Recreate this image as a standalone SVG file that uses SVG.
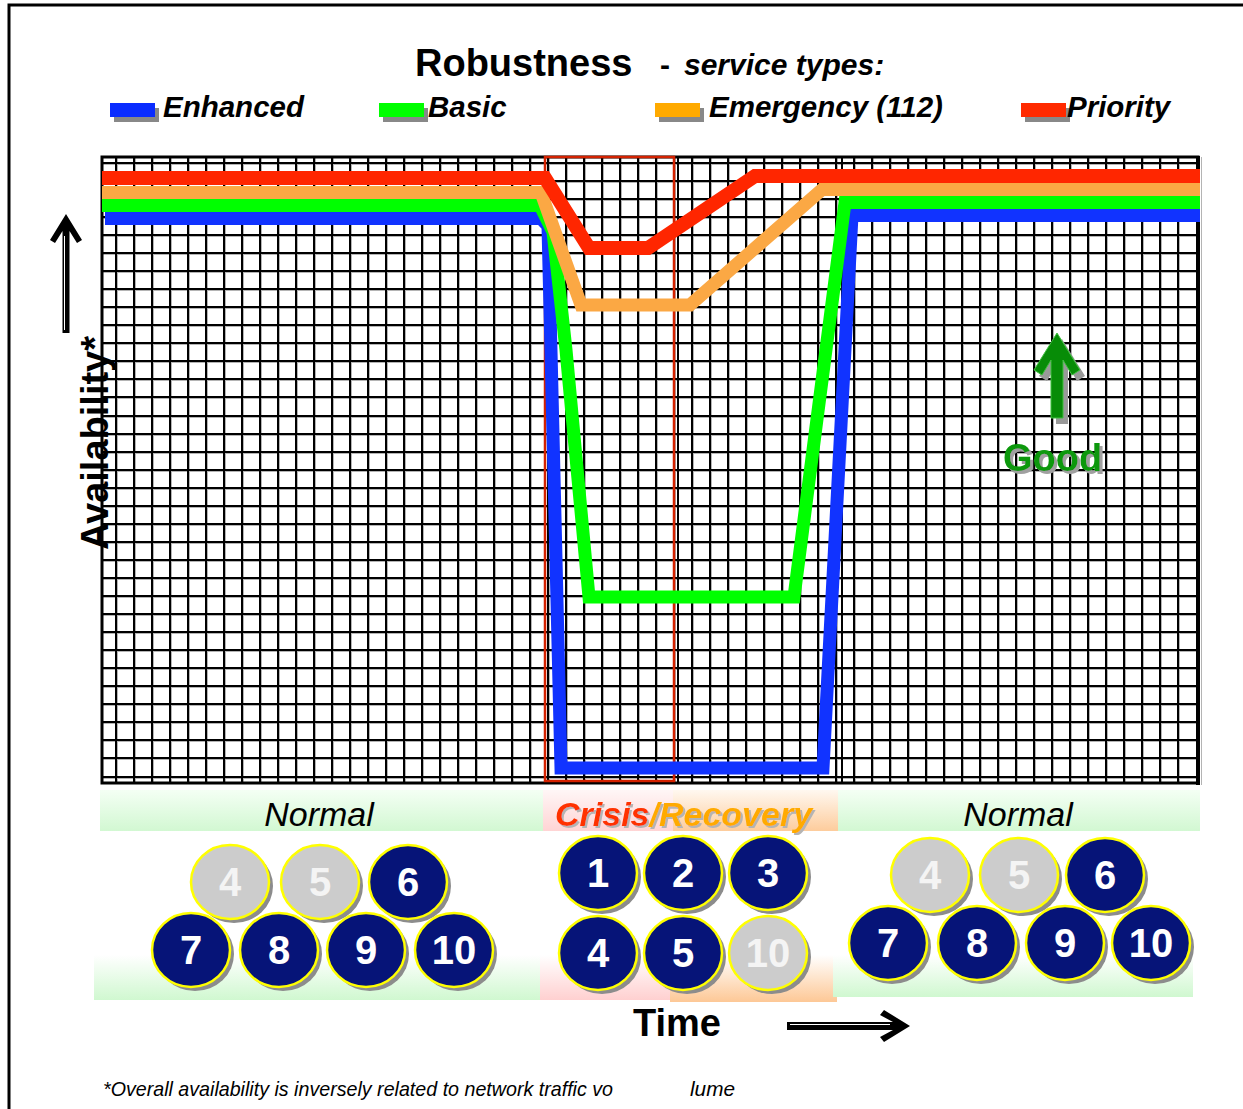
<svg xmlns="http://www.w3.org/2000/svg" width="1243" height="1109" viewBox="0 0 1243 1109">
<defs>
<style>
.t{font-family:"Liberation Sans",Arial,sans-serif}
.gl{stroke:#000;stroke-width:2;fill:none}
.gs{stroke:#b4b4b4;stroke-width:1;fill:none}
.ln{fill:none;stroke-linejoin:miter;stroke-miterlimit:10}
.sh{fill:#8c8c8c}
.cn{fill:#061478;stroke:#ffff00;stroke-width:2.5}
.cg{fill:#cccccc;stroke:#ffff00;stroke-width:2.5}
.num{font-family:"Liberation Sans",Arial,sans-serif;font-weight:bold;font-size:40px;fill:#ffffff;text-anchor:middle}
.numg{fill:#f4f4f4}
.lg{font-family:"Liberation Sans",Arial,sans-serif;font-weight:bold;font-style:italic;font-size:29.5px;fill:#000}
.sw{fill:#888888}
</style>
<filter id="ds" x="-10%" y="-20%" width="130%" height="150%"><feDropShadow dx="3" dy="3" stdDeviation="0" flood-color="#a0a0a0"/></filter>
<filter id="ds2" x="-10%" y="-20%" width="130%" height="150%"><feDropShadow dx="2" dy="2" stdDeviation="0" flood-color="#b4b4b4"/></filter>
<linearGradient id="gG" x1="0" y1="0" x2="0" y2="1"><stop offset="0" stop-color="#f4fff4"/><stop offset="1" stop-color="#d2f8d2"/></linearGradient>
<linearGradient id="gP" x1="0" y1="0" x2="0" y2="1"><stop offset="0" stop-color="#fff6f6"/><stop offset="1" stop-color="#ffd4d4"/></linearGradient>
<linearGradient id="gO" x1="0" y1="0" x2="0" y2="1"><stop offset="0" stop-color="#fff8f0"/><stop offset="1" stop-color="#fdcc9c"/></linearGradient>
<linearGradient id="gGl" x1="0" y1="0" x2="0" y2="1"><stop offset="0" stop-color="#ffffff"/><stop offset="1" stop-color="#d0f8d0"/></linearGradient>
<linearGradient id="gPl" x1="0" y1="0" x2="0" y2="1"><stop offset="0" stop-color="#ffffff"/><stop offset="1" stop-color="#ffd0d0"/></linearGradient>
<linearGradient id="gOl" x1="0" y1="0" x2="0" y2="1"><stop offset="0" stop-color="#ffffff"/><stop offset="1" stop-color="#fdc896"/></linearGradient>
</defs>
<rect width="1243" height="1109" fill="#fff"/>
<rect x="9" y="5" width="1300" height="1200" fill="none" stroke="#000" stroke-width="3"/>

<g id="title">
<text class="t" x="415" y="76" font-size="38" font-weight="bold">Robustness</text>
<text class="t" x="660" y="75" font-size="30" font-weight="bold">-</text>
<text class="t" x="684" y="75" font-size="30" font-weight="bold" font-style="italic">service types:</text>
</g>

<g id="legend">
<rect class="sw" x="114" y="108" width="45" height="14"/><rect x="110" y="103" width="45" height="14" fill="#0a2cff"/>
<text class="lg" x="163" y="117">Enhanced</text>
<rect class="sw" x="383" y="108" width="45" height="14"/><rect x="379" y="103" width="45" height="14" fill="#00ff00"/>
<text class="lg" x="428" y="117">Basic</text>
<rect class="sw" x="659" y="108" width="45" height="14"/><rect x="655" y="103" width="45" height="14" fill="#ffaa00"/>
<text class="lg" x="709" y="117">Emergency (112)</text>
<rect class="sw" x="1025" y="108" width="45" height="14"/><rect x="1021" y="103" width="45" height="14" fill="#ff2a00"/>
<text class="lg" x="1067" y="117">Priority</text>
</g>

<g id="grid">
<rect x="102" y="157" width="1096" height="626" fill="#fff"/>
<path class="gs" d="M117.5 157V783M135.5 157V783M153.5 157V783M171.5 157V783M189.5 157V783M207.5 157V783M225.5 157V783M243.5 157V783M261.5 157V783M279.5 157V783M297.5 157V783M315.5 157V783M333.5 157V783M351.5 157V783M369.5 157V783M387.5 157V783M405.5 157V783M423.5 157V783M441.5 157V783M459.5 157V783M477.5 157V783M495.5 157V783M513.5 157V783M531.5 157V783M549.5 157V783M567.5 157V783M585.5 157V783M603.5 157V783M621.5 157V783M639.5 157V783M657.5 157V783M675.5 157V783M693.5 157V783M711.5 157V783M729.5 157V783M747.5 157V783M765.5 157V783M783.5 157V783M801.5 157V783M819.5 157V783M837.5 157V783M855.5 157V783M873.5 157V783M891.5 157V783M909.5 157V783M927.5 157V783M945.5 157V783M963.5 157V783M981.5 157V783M999.5 157V783M1017.5 157V783M1035.5 157V783M1053.5 157V783M1071.5 157V783M1089.5 157V783M1107.5 157V783M1125.5 157V783M1143.5 157V783M1161.5 157V783M1179.5 157V783M1201.5 157V785"/>
<path class="gs" d="M102 164.5H1198M102 182.5H1198M102 200.5H1198M102 218.5H1198M102 236.5H1198M102 254.5H1198M102 272.5H1198M102 290.5H1198M102 308.5H1198M102 326.5H1198M102 344.5H1198M102 362.5H1198M102 380.5H1198M102 398.5H1198M102 417.5H1198M102 435.5H1198M102 453.5H1198M102 471.5H1198M102 489.5H1198M102 507.5H1198M102 525.5H1198M102 543.5H1198M102 561.5H1198M102 579.5H1198M102 597.5H1198M102 615.5H1198M102 633.5H1198M102 651.5H1198M102 669.5H1198M102 687.5H1198M102 705.5H1198M102 723.5H1198M102 741.5H1198M102 759.5H1198M102 778.5H1198"/>
<path class="gl" d="M116 157V783M134 157V783M152 157V783M170 157V783M188 157V783M206 157V783M224 157V783M242 157V783M260 157V783M278 157V783M296 157V783M314 157V783M332 157V783M350 157V783M368 157V783M386 157V783M404 157V783M422 157V783M440 157V783M458 157V783M476 157V783M494 157V783M512 157V783M530 157V783M548 157V783M566 157V783M584 157V783M602 157V783M620 157V783M638 157V783M656 157V783M674 157V783M678 157V783M692 157V783M710 157V783M728 157V783M746 157V783M764 157V783M782 157V783M800 157V783M818 157V783M836 157V783M842 157V783M854 157V783M872 157V783M890 157V783M908 157V783M926 157V783M944 157V783M962 157V783M980 157V783M998 157V783M1016 157V783M1034 157V783M1052 157V783M1070 157V783M1088 157V783M1106 157V783M1124 157V783M1142 157V783M1160 157V783M1178 157V783"/>
<path class="gl" d="M102 163H1198M102 181H1198M102 199H1198M102 217H1198M102 235H1198M102 253H1198M102 271H1198M102 289H1198M102 307H1198M102 325H1198M102 343H1198M102 361H1198M102 379H1198M102 397H1198M102 416H1198M102 434H1198M102 452H1198M102 470H1198M102 488H1198M102 506H1198M102 524H1198M102 542H1198M102 560H1198M102 578H1198M102 596H1198M102 614H1198M102 632H1198M102 650H1198M102 668H1198M102 686H1198M102 704H1198M102 722H1198M102 740H1198M102 758H1198M102 777H1198"/>
<rect x="102" y="157" width="1096" height="626" fill="none" stroke="#000" stroke-width="3"/>
<path d="M1198 156V785" stroke="#000" stroke-width="4"/>
<rect x="545" y="157" width="129" height="624" fill="none" stroke="#d42200" stroke-width="2.5"/>
</g>

<g id="connectors">
<path class="ln" stroke="#1133ff" stroke-width="13" d="M105 218.5H541L548 226L561 768H823L852 215.5H1200"/>
<path class="ln" stroke="#00ff00" stroke-width="13" d="M102 205.5H540L553 232L566 350L589 597H794L845 202.5H1200"/>
<path class="ln" stroke="#fba844" stroke-width="13" d="M102 192.5H541L581 305H690L822 189.5H1200"/>
<path class="ln" stroke="#ff2600" stroke-width="14" d="M102 178H545L589 248H648L755 176H1200"/>
</g>

<g id="yaxis">
<path d="M66 214L82 240L77 243L69.5 231V333H62.5V231L55 243L50 240Z" fill="#000"/>
<path d="M64.5 236V330" stroke="#fff" stroke-width="1"/>
<text class="t" transform="translate(108,550) rotate(-90)" font-size="38" font-weight="bold">Availability*</text>
</g>

<g id="good">
<path d="M1062 339L1085 376L1077 381L1068 366V424H1056V366L1047 381L1039 376Z" fill="#999"/>
<path d="M1057 333L1080 370L1072 375L1063 360V418H1051V360L1042 375L1034 370Z" fill="#078c07" stroke="#40c040" stroke-width="1"/>
<text class="t" x="1003" y="471" font-size="38" font-weight="bold" fill="#089808" filter="url(#ds)">Good</text>
</g>

<g id="phase-bars">
<rect x="100" y="790" width="443" height="41" fill="url(#gG)"/>
<rect x="543" y="790" width="130" height="41" fill="url(#gP)"/>
<rect x="673" y="790" width="165" height="41" fill="url(#gO)"/>
<rect x="838" y="790" width="362" height="41" fill="url(#gG)"/>
<rect x="94" y="955" width="446" height="45" fill="url(#gGl)"/>
<rect x="540" y="955" width="130" height="45" fill="url(#gPl)"/>
<rect x="670" y="955" width="167" height="47" fill="url(#gOl)"/>
<rect x="833" y="955" width="360" height="42" fill="url(#gGl)"/>
<text class="t" x="319" y="826" font-size="34" font-style="italic" text-anchor="middle">Normal</text>
<text class="t" x="1018" y="826" font-size="34" font-style="italic" text-anchor="middle">Normal</text>
<text class="t" x="555" y="826" font-size="34" font-weight="bold" font-style="italic" filter="url(#ds2)"><tspan fill="#ff3300">Crisis</tspan><tspan fill="#ffaa00">/Recovery</tspan></text>
</g>

<g id="left-circles">
<g id="l4"><ellipse class="sh" cx="234" cy="886" rx="39" ry="37"/><ellipse class="cg" cx="230" cy="882" rx="39" ry="37"/><text class="num numg" x="230" y="896">4</text></g>
<g id="l5"><ellipse class="sh" cx="324" cy="886" rx="39" ry="37"/><ellipse class="cg" cx="320" cy="882" rx="39" ry="37"/><text class="num numg" x="320" y="896">5</text></g>
<g id="l6"><ellipse class="sh" cx="412" cy="886" rx="39" ry="37"/><ellipse class="cn" cx="408" cy="882" rx="39" ry="37"/><text class="num" x="408" y="896">6</text></g>
<g id="l7"><ellipse class="sh" cx="195" cy="954" rx="39" ry="37"/><ellipse class="cn" cx="191" cy="950" rx="39" ry="37"/><text class="num" x="191" y="964">7</text></g>
<g id="l8"><ellipse class="sh" cx="283" cy="954" rx="39" ry="37"/><ellipse class="cn" cx="279" cy="950" rx="39" ry="37"/><text class="num" x="279" y="964">8</text></g>
<g id="l9"><ellipse class="sh" cx="370" cy="954" rx="39" ry="37"/><ellipse class="cn" cx="366" cy="950" rx="39" ry="37"/><text class="num" x="366" y="964">9</text></g>
<g id="l10"><ellipse class="sh" cx="458" cy="954" rx="39" ry="37"/><ellipse class="cn" cx="454" cy="950" rx="39" ry="37"/><text class="num" x="454" y="964">10</text></g>
</g>

<g id="crisis-circles">
<g id="m1"><ellipse class="sh" cx="602" cy="877" rx="39" ry="37"/><ellipse class="cn" cx="598" cy="873" rx="39" ry="37"/><text class="num" x="598" y="887">1</text></g>
<g id="m2"><ellipse class="sh" cx="687" cy="877" rx="39" ry="37"/><ellipse class="cn" cx="683" cy="873" rx="39" ry="37"/><text class="num" x="683" y="887">2</text></g>
<g id="m3"><ellipse class="sh" cx="772" cy="877" rx="39" ry="37"/><ellipse class="cn" cx="768" cy="873" rx="39" ry="37"/><text class="num" x="768" y="887">3</text></g>
<g id="m4"><ellipse class="sh" cx="602" cy="957" rx="39" ry="37"/><ellipse class="cn" cx="598" cy="953" rx="39" ry="37"/><text class="num" x="598" y="967">4</text></g>
<g id="m5"><ellipse class="sh" cx="687" cy="957" rx="39" ry="37"/><ellipse class="cn" cx="683" cy="953" rx="39" ry="37"/><text class="num" x="683" y="967">5</text></g>
<g id="m10"><ellipse class="sh" cx="772" cy="957" rx="39" ry="37"/><ellipse class="cg" cx="768" cy="953" rx="39" ry="37"/><text class="num numg" x="768" y="967">10</text></g>
</g>

<g id="right-circles">
<g id="r4"><ellipse class="sh" cx="934" cy="879" rx="39" ry="37"/><ellipse class="cg" cx="930" cy="875" rx="39" ry="37"/><text class="num numg" x="930" y="889">4</text></g>
<g id="r5"><ellipse class="sh" cx="1023" cy="879" rx="39" ry="37"/><ellipse class="cg" cx="1019" cy="875" rx="39" ry="37"/><text class="num numg" x="1019" y="889">5</text></g>
<g id="r6"><ellipse class="sh" cx="1109" cy="879" rx="39" ry="37"/><ellipse class="cn" cx="1105" cy="875" rx="39" ry="37"/><text class="num" x="1105" y="889">6</text></g>
<g id="r7"><ellipse class="sh" cx="892" cy="947" rx="39" ry="37"/><ellipse class="cn" cx="888" cy="943" rx="39" ry="37"/><text class="num" x="888" y="957">7</text></g>
<g id="r8"><ellipse class="sh" cx="981" cy="947" rx="39" ry="37"/><ellipse class="cn" cx="977" cy="943" rx="39" ry="37"/><text class="num" x="977" y="957">8</text></g>
<g id="r9"><ellipse class="sh" cx="1069" cy="947" rx="39" ry="37"/><ellipse class="cn" cx="1065" cy="943" rx="39" ry="37"/><text class="num" x="1065" y="957">9</text></g>
<g id="r10"><ellipse class="sh" cx="1155" cy="947" rx="39" ry="37"/><ellipse class="cn" cx="1151" cy="943" rx="39" ry="37"/><text class="num" x="1151" y="957">10</text></g>
</g>

<g id="time">
<text class="t" x="633" y="1036" font-size="38" font-weight="bold">Time</text>
<path d="M910 1026L884 1010L880 1015L893 1022H787V1030H893L880 1037L884 1042Z" fill="#000"/>
<path d="M790 1024.5H890" stroke="#fff" stroke-width="1"/>
</g>

<g id="footnote">
<text class="t" x="103" y="1096" font-size="21" font-style="italic" textLength="510" lengthAdjust="spacingAndGlyphs">*Overall availability is inversely related to network traffic vo</text>
<text class="t" x="690" y="1096" font-size="21" font-style="italic" textLength="45" lengthAdjust="spacingAndGlyphs">lume</text>
</g>
</svg>
